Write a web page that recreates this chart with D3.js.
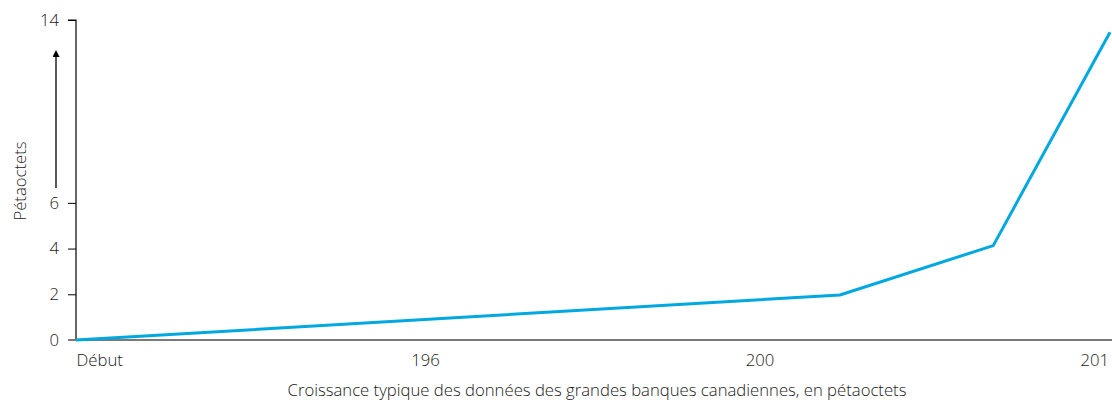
<!DOCTYPE html>
<html>
<head>
<meta charset="utf-8">
<script src="https://cdn.jsdelivr.net/npm/d3@7"></script>
<style>
  body { margin: 0; background: #fff; }
  svg text { font-family: "Open Sans", "Noto Sans", sans-serif; font-weight: 300; fill: #1a1a1a; }
</style>
</head>
<body>
<div id="chart"></div>
<script>
// data (x in periods, y in petabytes)
var periods = [0, 2.283, 2.741, 3.09];
var petabytes = [0, 1.97, 4.13, 13.46];
var xTickValues = [0, 1, 2, 3];
var xTickLabels = ["Début", "196", "200", "201"];
var yTickValues = [0, 2, 4, 6, 14];
var yLabel = "Pétaoctets";
var xLabel = "Croissance typique des données des grandes banques canadiennes, en pétaoctets";

var width = 1112, height = 402;
var margin = {top: 20, right: 2, bottom: 62, left: 76};
var fontSize = "16.7px";

var svg = d3.select("#chart")
            .append("svg")
            .attr("width", width)
            .attr("height", height);

//scales
var x = d3.scaleLinear()
          .domain([0, 3.09])
          .range([margin.left, 1110]);

var y = d3.scaleLinear()
          .domain([0, 14])
          .range([height - margin.bottom, margin.top]);

//y axis
var yAxis = d3.axisLeft(y)
              .tickValues(yTickValues)
              .tickSize(8)
              .tickPadding(9);

var gy = svg.append("g")
    .attr("transform", "translate(" + margin.left + ",0)")
    .call(yAxis);
gy.select(".domain").attr("stroke", "#000").attr("stroke-width", 1.2)
  .attr("d", "M-8," + y(14) + "H0V" + y(0));
gy.selectAll(".tick line").attr("stroke", "#000");
gy.selectAll(".tick text").style("font-size", fontSize);

//x axis
var xAxis = d3.axisBottom(x)
              .tickValues(xTickValues)
              .tickSize(0)
              .tickPadding(14)
              .tickFormat(function(d, i) { return xTickLabels[i]; });

var gx = svg.append("g")
    .attr("transform", "translate(0," + y(0) + ")")
    .call(xAxis);
gx.select(".domain")
  .attr("d", "M68,0H" + width)
  .attr("stroke", "#7a7a7a")
  .attr("stroke-width", 2);
gx.selectAll(".tick text")
  .style("font-size", fontSize)
  .attr("text-anchor", "start")
  .attr("dx", "0");

//the line
var line = d3.line()
    .x(function(d, i) { return x(periods[i]); })
    .y(function(d) { return y(d); });

svg.append("path")
   .datum(petabytes)
   .attr("fill", "none")
   .attr("stroke", "#00a8e1")
   .attr("stroke-width", 3)
   .attr("stroke-linejoin", "round")
   .attr("d", line);

//y label and arrow
svg.append("defs").append("marker")
   .attr("id", "arrow")
   .attr("viewBox", "0 0 10 10")
   .attr("refX", 5).attr("refY", 10)
   .attr("markerWidth", 7).attr("markerHeight", 12)
   .attr("markerUnits", "userSpaceOnUse")
   .attr("orient", "0")
   .append("path")
   .attr("d", "M0,10 L5,0 L10,10 Z")
   .attr("fill", "#000");

svg.append("line")
   .attr("x1", 56).attr("x2", 56)
   .attr("y1", 188).attr("y2", 57)
   .attr("stroke", "#000")
   .attr("stroke-width", 1.3)
   .attr("marker-end", "url(#arrow)");

svg.append("text")
   .attr("transform", "translate(26,181) rotate(-90)")
   .attr("text-anchor", "middle")
   .style("font-size", fontSize)
   .text(yLabel);

svg.append("text")
   .attr("x", 597)
   .attr("y", 396)
   .attr("text-anchor", "middle")
   .style("font-size", fontSize)
   .text(xLabel);
</script>
</body>
</html>
